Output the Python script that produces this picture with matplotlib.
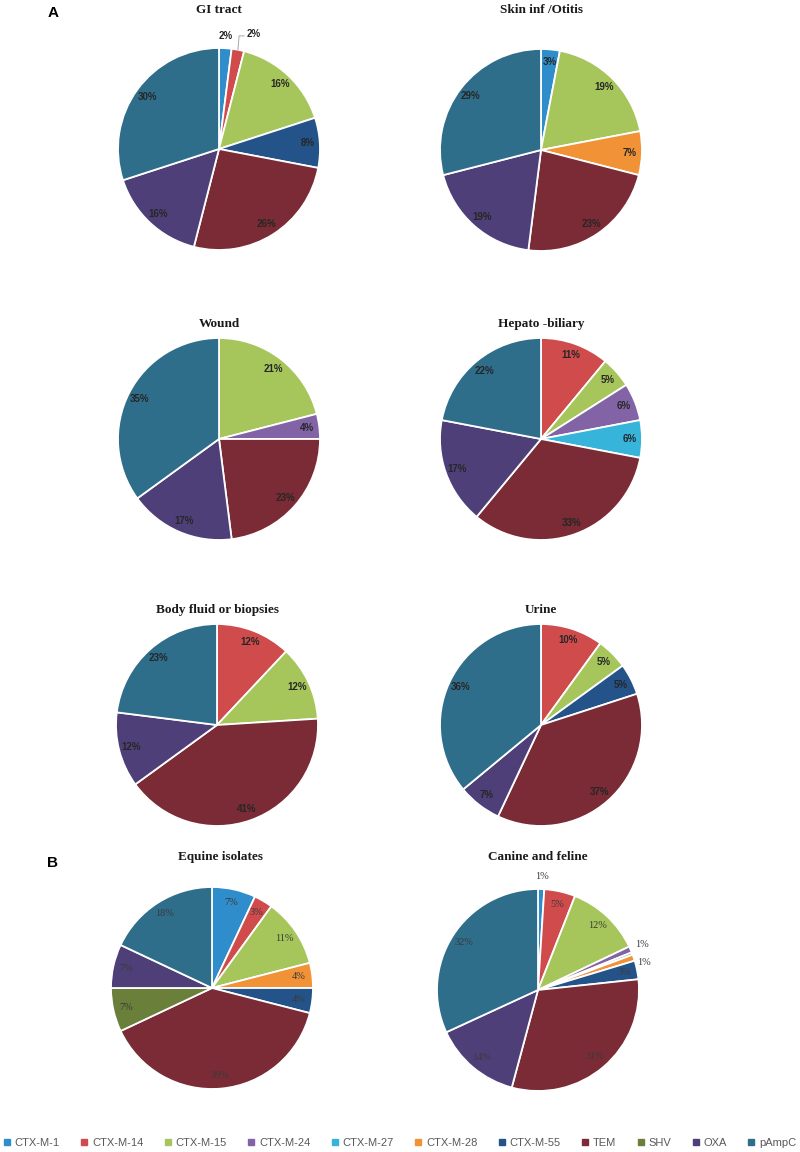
import matplotlib
matplotlib.use('Agg')
import matplotlib.pyplot as plt
import numpy as np
from matplotlib.lines import Line2D

# gene groups, in the order the slices run clockwise from 12 o'clock
genes = ['CTX-M-1', 'CTX-M-14', 'CTX-M-15', 'CTX-M-24', 'CTX-M-27', 'CTX-M-28',
         'CTX-M-55', 'TEM', 'SHV', 'OXA', 'pAmpC']
colors = ['#2F8DCB', '#D04B4B', '#A6C65B', '#8264A6', '#36B4DA', '#F19237',
          '#245389', '#7A2B35', '#6A7F3A', '#4F3F78', '#2F6E8B']

# percentages per source (0 = gene not found)
gi_tract    = [2, 2, 16, 0, 0, 0, 8, 26, 0, 16, 30]
skin_otitis = [3, 0, 19, 0, 0, 7, 0, 23, 0, 19, 29]
wound       = [0, 0, 21, 4, 0, 0, 0, 23, 0, 17, 35]
hepato      = [0, 11, 5, 6, 6, 0, 0, 33, 0, 17, 22]
body_fluid  = [0, 12, 12, 0, 0, 0, 0, 41, 0, 12, 23]
urine       = [0, 10, 5, 0, 0, 0, 5, 37, 0, 7, 36]
equine      = [7, 3, 11, 0, 0, 4, 4, 39, 7, 7, 18]
canine      = [1, 5, 12, 1, 0.4, 1, 3, 31, 0, 14, 32]

W, H = 800, 1152
fig = plt.figure(figsize=(W / 100, H / 100), dpi=100)

# (title, data, centre x, centre y, title y, panel) in pixels
charts = [
    ('GI tract', gi_tract, 219, 149, 10, 'A'),
    ('Skin inf /Otitis', skin_otitis, 541, 150, 10, 'A'),
    ('Wound', wound, 219, 439, 324, 'A'),
    ('Hepato -biliary', hepato, 541, 439, 324, 'A'),
    ('Body fluid or biopsies', body_fluid, 217, 725, 610, 'A'),
    ('Urine', urine, 541, 725, 610, 'A'),
    ('Equine isolates', equine, 212, 988, 857, 'B'),
    ('Canine and feline', canine, 538, 990, 857, 'B'),
]
R = 101

# small outside labels that need a nudge (pixels) and maybe a leader line
nudges = {('GI tract', 'CTX-M-14'): (13, 4, True),
          ('Canine and feline', 'CTX-M-28'): (-1, -9, False)}

for title, data, cx, cy, ty, panel in charts:
    ax = fig.add_axes([(cx - R) / W, 1 - (cy + R) / H, 2 * R / W, 2 * R / H])
    vals = [v for v in data if v > 0]
    cols = [c for v, c in zip(data, colors) if v > 0]
    names = [g for v, g in zip(data, genes) if v > 0]
    wedges, _ = ax.pie(vals, colors=cols, startangle=90, counterclock=False,
                       wedgeprops=dict(edgecolor='white', linewidth=1.3))
    ax.set_xlim(-1, 1)
    ax.set_ylim(-1, 1)
    ax.set_aspect('equal')
    ax.axis('off')

    if panel == 'A':
        tp = dict(fontsize=7, fontweight='bold', color='#262626',
                  family='Liberation Sans')
    else:
        tp = dict(fontsize=7.5, color='#3a3a3a', family='Liberation Serif')

    for w, v, g in zip(wedges, vals, names):
        if v < 1:
            continue
        th = np.deg2rad((w.theta1 + w.theta2) / 2)
        d = 1.12 if v <= 2 else (0.88 if panel == 'A' else 0.87)
        x, y = d * np.cos(th), d * np.sin(th)
        dx, dy, line = nudges.get((title, g), (0, 0, False))
        lx, ly = x + dx / R, y + dy / R
        ax.text(lx, ly, '%d%%' % v, ha='center', va='center', clip_on=False, **tp)
        if line:
            ax.plot([np.cos(th), 1.06 * np.cos(th), lx - 0.09],
                    [np.sin(th), ly - 0.02, ly - 0.02],
                    color='#A6A6A6', lw=0.7, clip_on=False)

    shift = 9 if title == 'Equine isolates' else 0
    fig.text((cx + shift) / W, 1 - ty / H, title, ha='center', va='center',
             fontsize=9.5, fontweight='bold', family='Liberation Serif',
             color='#1a1a1a')

fig.text(53 / W, 1 - 13 / H, 'A', ha='center', va='center', fontsize=11,
         fontweight='bold', family='Liberation Sans')
fig.text(53 / W, 1 - 863 / H, 'B', ha='center', va='center', fontsize=11,
         fontweight='bold', family='Liberation Sans')

handles = [Line2D([], [], marker='s', linestyle='none', markersize=4,
                  markerfacecolor=c, markeredgecolor=c) for c in colors]
fig.legend(handles, genes, loc='center', bbox_to_anchor=(0.5, 1 - 1143 / H),
           ncol=len(genes), frameon=False, handlelength=0.6, handletextpad=0.4,
           columnspacing=1.9, prop={'family': 'Liberation Sans', 'size': 8},
           labelcolor='#595959')

fig.savefig('out.png', dpi=100)
